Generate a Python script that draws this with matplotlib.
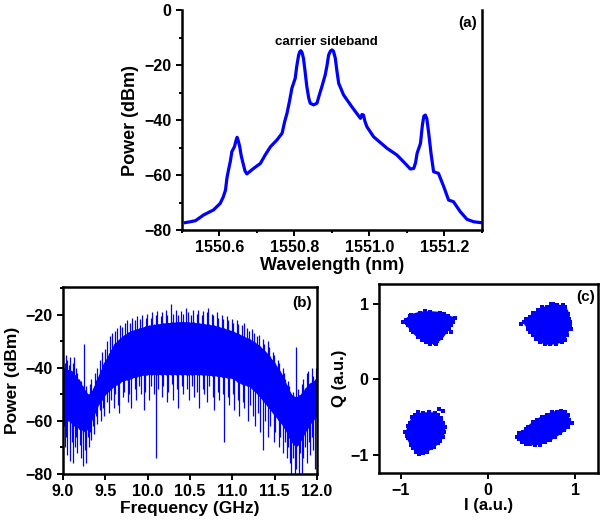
import numpy as np
import matplotlib
matplotlib.use("Agg")
import matplotlib.pyplot as plt
from matplotlib.ticker import MultipleLocator

plt.rcParams['font.family'] = ['Liberation Sans', 'DejaVu Sans']
plt.rcParams['font.weight'] = 'bold'

BLUE = '#0000ff'

# ---------------- panel (a): optical spectrum ----------------
wl = [1550.509, 1550.522, 1550.536, 1550.558, 1550.584, 1550.602, 1550.610, 1550.616,
      1550.620, 1550.624, 1550.629, 1550.633, 1550.640, 1550.644, 1550.647, 1550.650,
      1550.654, 1550.658, 1550.663, 1550.668, 1550.673, 1550.691, 1550.709, 1550.722,
      1550.736, 1550.753, 1550.767, 1550.774, 1550.780, 1550.787, 1550.793, 1550.802,
      1550.806, 1550.811, 1550.814, 1550.817, 1550.820, 1550.824, 1550.828, 1550.833,
      1550.838, 1550.842, 1550.851, 1550.860, 1550.866, 1550.873, 1550.882, 1550.887,
      1550.891, 1550.896, 1550.900, 1550.904, 1550.909, 1550.913, 1550.918, 1550.931,
      1550.953, 1550.976, 1550.980, 1550.984, 1550.988, 1550.993, 1551.011, 1551.047,
      1551.073, 1551.091, 1551.109, 1551.118, 1551.123, 1551.127, 1551.136, 1551.141,
      1551.145, 1551.149, 1551.153, 1551.158, 1551.164, 1551.171, 1551.184, 1551.198,
      1551.211, 1551.224, 1551.242, 1551.260, 1551.278, 1551.296]
pw = [-77.3, -77.0, -76.6, -74.5, -72.7, -70.3, -68.0, -65.5,
      -61.0, -58.2, -55.0, -51.5, -49.7, -47.5, -46.3, -47.5,
      -49.7, -53.0, -55.8, -58.5, -59.6, -57.6, -55.8, -52.7,
      -49.7, -47.3, -44.8, -40.5, -37.6, -33.0, -28.5, -24.8,
      -20.5, -16.5, -15.2, -14.8, -15.4, -17.6, -22.0, -27.9,
      -32.0, -33.9, -34.5, -33.9, -31.0, -27.9, -23.6, -20.0,
      -16.4, -14.9, -14.5, -15.0, -17.6, -22.0, -26.7, -30.9,
      -35.2, -39.4, -38.0, -38.2, -40.5, -42.4, -46.1, -50.3,
      -52.7, -55.2, -57.8, -57.6, -55.5, -52.1, -48.5, -42.0,
      -38.6, -38.2, -39.5, -44.8, -52.0, -58.8, -59.4, -64.2,
      -69.1, -69.7, -73.3, -76.1, -77.0, -77.3]

# ---------------- panel (b): RF spectrum ----------------
freq_env = [9.0, 9.1, 9.2, 9.25, 9.3, 9.35, 9.4, 9.5, 9.6, 9.7, 9.8, 9.9, 10.0, 10.2,
            10.4, 10.6, 10.8, 11.0, 11.1, 11.2, 11.3, 11.4, 11.5, 11.6, 11.65, 11.7,
            11.75, 11.8, 11.9, 12.0]
band_top = [-40, -41, -45, -48, -50, -48, -44, -37, -31, -28, -26, -25, -24, -23,
            -22.5, -23, -24, -26, -27.5, -29, -31, -34, -38, -43, -47, -50,
            -51, -50, -46, -44]
band_bottom = [-57, -61, -63, -64, -63, -59, -55, -50, -47, -45, -44, -43, -42.5, -42.5,
               -42.5, -42.5, -43, -44, -46, -47, -50, -54, -58, -62, -65, -68,
               -70, -68, -62, -58]
up_f = [9.005, 9.018, 9.038, 9.047, 9.072, 9.086, 9.113, 9.127, 9.152, 9.166, 9.193, 9.207, 9.252,
        9.276, 9.313, 9.336, 9.374, 9.397, 9.434, 9.455, 9.493, 9.516, 9.553, 9.575, 9.614, 9.635,
        9.674, 9.694, 9.734, 9.755, 9.794, 9.814, 9.855, 9.873, 9.915, 9.933, 9.976, 9.993, 10.036,
        10.053, 10.096, 10.112, 10.157, 10.173, 10.216, 10.233, 10.272, 10.296, 10.335, 10.354,
        10.396, 10.413, 10.457, 10.472, 10.517, 10.532, 10.577, 10.592, 10.637, 10.652, 10.697,
        10.712, 10.757, 10.772, 10.817, 10.832, 10.877, 10.892, 10.937, 10.952, 10.997, 11.012,
        11.057, 11.072, 11.117, 11.132, 11.177, 11.192, 11.237, 11.252, 11.297, 11.312, 11.357,
        11.372, 11.417, 11.432, 11.477, 11.492, 11.537, 11.552, 11.597, 11.612, 11.657, 11.672,
        11.712, 11.752, 11.772, 11.817, 11.832, 11.877, 11.892, 11.937, 11.952, 11.992]
up_top = [-36, -38, -35, -37, -39, -36, -38, -36, -40, -42, -44, -45, -31,
          -47, -46, -44, -42, -40, -37, -34, -33, -30, -28, -27, -26, -25,
          -24, -24.5, -23, -22, -23, -21, -22, -20.5, -21.5, -20, -21, -19.5, -21,
          -19, -20, -18.5, -20.5, -19, -18, -20, -16, -19.5, -18, -20,
          -18.5, -19.5, -17.5, -19, -20, -18, -19.5, -18, -20, -18.5, -19,
          -17.5, -19.5, -20, -19, -21, -20, -21.5, -20.5, -22, -21.5, -23,
          -22, -23.5, -24, -23, -25, -26, -25.5, -27, -28, -27.5, -29,
          -31, -30, -32, -34, -35, -37, -38, -40, -42, -45, -47,
          -49, -32, -48, -46, -44, -42, -41, -40, -43, -40]
down_f = [9.01, 9.022, 9.037, 9.052, 9.061, 9.078, 9.086, 9.104, 9.113, 9.127, 9.146, 9.152,
          9.168, 9.189, 9.197, 9.218, 9.231, 9.241, 9.262, 9.271, 9.293, 9.301, 9.324, 9.333,
          9.356, 9.366, 9.394, 9.405, 9.436, 9.447, 9.476, 9.488, 9.515, 9.546, 9.562, 9.598,
          9.616, 9.647, 9.662, 9.703, 9.722, 9.768, 9.781, 9.806, 9.848, 9.866, 9.893, 9.917,
          9.958, 9.972, 10.016, 10.038, 10.077, 10.098, 10.124, 10.168, 10.185, 10.227, 10.243, 10.286,
          10.304, 10.347, 10.362, 10.405, 10.421, 10.466, 10.483, 10.527, 10.546, 10.588, 10.604, 10.648,
          10.663, 10.706, 10.722, 10.768, 10.782, 10.826, 10.843, 10.887, 10.905, 10.944, 10.962, 11.008,
          11.024, 11.067, 11.083, 11.126, 11.142, 11.187, 11.203, 11.246, 11.262, 11.307, 11.322, 11.364,
          11.382, 11.426, 11.442, 11.487, 11.503, 11.546, 11.563, 11.604, 11.617, 11.643, 11.655, 11.684,
          11.697, 11.718, 11.742, 11.757, 11.783, 11.797, 11.823, 11.836, 11.862, 11.877, 11.903, 11.918,
          11.944, 11.957, 11.982, 11.995]
down_lo = [-62, -70, -66, -73, -60, -75, -64, -68, -76, -62, -70, -66,
           -72, -63, -69, -74, -77, -65, -71, -76, -66, -70, -64, -67,
           -62, -65, -58, -61, -56, -60, -55, -58, -53, -57, -52, -55,
           -50, -54, -57, -51, -49, -53, -50, -55, -48, -52, -47, -50,
           -56, -49, -52, -47, -50, -74, -48, -51, -47, -53, -49, -46,
           -52, -48, -55, -47, -50, -48, -52, -47, -51, -49, -55, -48,
           -50, -53, -47, -51, -56, -49, -52, -50, -68, -51, -54, -50,
           -56, -52, -58, -53, -55, -60, -54, -58, -62, -57, -64, -71,
           -60, -66, -62, -68, -64, -70, -66, -72, -68, -74, -70, -76,
           -80, -74, -80, -78, -80, -72, -80, -74, -70, -76, -68, -73,
           -66, -71, -78, -65]

# ---------------- panel (c): constellation clusters ----------------
ul_I = [-0.946, -0.881, -0.785, -0.670, -0.556, -0.460, -0.383, -0.421, -0.479, -0.536,
        -0.613, -0.709, -0.805, -0.881, -0.920]
ul_Q = [0.781, 0.847, 0.878, 0.887, 0.878, 0.834, 0.803, 0.715, 0.626, 0.538,
        0.472, 0.494, 0.560, 0.648, 0.715]
ur_I = [0.410, 0.479, 0.575, 0.670, 0.785, 0.881, 0.920, 0.939, 0.900, 0.843,
        0.709, 0.594, 0.517, 0.460]
ur_Q = [0.759, 0.825, 0.913, 0.957, 0.979, 0.957, 0.869, 0.715, 0.582, 0.494,
        0.463, 0.494, 0.582, 0.670]
ll_I = [-0.931, -0.900, -0.843, -0.747, -0.613, -0.536, -0.498, -0.517, -0.575, -0.651,
        -0.747, -0.824, -0.881, -0.920]
ll_Q = [-0.697, -0.587, -0.476, -0.454, -0.454, -0.521, -0.631, -0.763, -0.851, -0.918,
        -0.984, -0.962, -0.873, -0.785]
lr_I = [0.333, 0.402, 0.460, 0.556, 0.670, 0.785, 0.881, 0.931, 0.920, 0.824,
        0.709, 0.594, 0.479, 0.383]
lr_Q = [-0.763, -0.697, -0.631, -0.543, -0.476, -0.432, -0.432, -0.543, -0.631, -0.719,
        -0.807, -0.860, -0.865, -0.829]
edge_I = [-0.97, -0.40, -0.42, -0.60, -0.90, -0.72, -0.50, -0.40, -0.45, -0.58, -0.66, -0.76,
          -0.86, -0.93,
          0.38, 0.94, 0.88, 0.72, 0.44, 0.52, 0.62, 0.74, 0.86, 0.93, 0.95, 0.88, 0.78, 0.65,
          0.55, 0.48,
          -0.56, -0.52, -0.95, -0.92, -0.87, -0.80, -0.68, -0.57, -0.52, -0.50, -0.55, -0.62,
          -0.70, -0.79, -0.86, -0.93,
          0.96, 0.36, 0.60, 0.36, 0.44, 0.52, 0.62, 0.73, 0.84, 0.92, 0.94, 0.87, 0.77, 0.65,
          0.54, 0.43, 0.35]
edge_Q = [0.76, 0.80, 0.62, 0.47, 0.83, 0.90, 0.86, 0.76, 0.66, 0.50, 0.46, 0.52,
          0.62, 0.74,
          0.73, 0.75, 0.96, 1.00, 0.80, 0.88, 0.95, 0.99, 0.98, 0.80, 0.66, 0.52, 0.46, 0.46,
          0.53, 0.62,
          -0.39, -0.42, -0.70, -0.62, -0.50, -0.44, -0.44, -0.48, -0.58, -0.70, -0.82, -0.90,
          -0.96, -0.99, -0.92, -0.75,
          -0.58, -0.78, -0.88, -0.72, -0.66, -0.57, -0.50, -0.44, -0.42, -0.48, -0.58, -0.68,
          -0.77, -0.84, -0.87, -0.86, -0.80]

fig = plt.figure(figsize=(6.02, 5.21), dpi=100)

def style(ax, fs=11):
    for s in ax.spines.values():
        s.set_linewidth(1.8)
    ax.tick_params(which='both', direction='out', width=1.4, labelsize=fs)
    ax.tick_params(which='major', length=4)
    ax.tick_params(which='minor', length=2.5)
    for lab in ax.get_xticklabels() + ax.get_yticklabels():
        lab.set_fontweight('bold')

# (a)
axa = fig.add_axes([0.3023, 0.5585, 0.4983, 0.4223])
axa.plot(wl, pw, color=BLUE, lw=2.3, solid_joinstyle='round')
axa.set_xlim(1550.5, 1551.3)
axa.set_ylim(-80, 0)
axa.set_xticks([1550.6, 1550.8, 1551.0, 1551.2])
axa.set_xticklabels(['1550.6', '1550.8', '1551.0', '1551.2'])
axa.xaxis.set_minor_locator(MultipleLocator(0.1))
axa.set_yticks([-80, -60, -40, -20, 0])
axa.yaxis.set_minor_locator(MultipleLocator(10))
axa.spines['top'].set_visible(False)
style(axa, 11.5)
axa.set_xlabel('Wavelength (nm)', fontsize=13, fontweight='bold', labelpad=1)
axa.set_ylabel('Power (dBm)', fontsize=13, fontweight='bold', labelpad=4)
axa.text(1550.886, -11.5, 'carrier sideband', ha='center', va='center', fontsize=9.5, fontweight='bold')
axa.text(0.953, 0.94, '(a)', transform=axa.transAxes, ha='center', va='center', fontsize=11, fontweight='bold')

# (b)
axb = fig.add_axes([0.1047, 0.0902, 0.4219, 0.3589])
axb.fill_between(freq_env, band_bottom, band_top, color=BLUE, lw=0)
dtop = np.interp(down_f, freq_env, band_top)
axb.vlines(down_f, down_lo, dtop, color=BLUE, lw=0.9)
utop = np.interp(up_f, freq_env, band_bottom)
axb.vlines(up_f, utop, up_top, color=BLUE, lw=0.9)
axb.set_xlim(9.0, 12.0)
axb.set_ylim(-80, -9.5)
axb.set_xticks([9.0, 9.5, 10.0, 10.5, 11.0, 11.5, 12.0])
axb.set_xticklabels(['9.0', '9.5', '10.0', '10.5', '11.0', '11.5', '12.0'])
axb.set_yticks([-80, -60, -40, -20])
axb.yaxis.set_minor_locator(MultipleLocator(10))
style(axb, 11.5)
axb.set_xlabel('Frequency (GHz)', fontsize=12.5, fontweight='bold', labelpad=1)
axb.set_ylabel('Power (dBm)', fontsize=12.5, fontweight='bold', labelpad=4)
axb.text(0.94, 0.914, '(b)', transform=axb.transAxes, ha='center', va='center', fontsize=11, fontweight='bold')

# (c)
axc = fig.add_axes([0.6296, 0.0921, 0.3638, 0.3628])
for ci, cq in [(ul_I, ul_Q), (ur_I, ur_Q), (ll_I, ll_Q), (lr_I, lr_Q)]:
    axc.fill(ci, cq, color=BLUE, lw=1.5, ec=BLUE)
    axc.scatter(ci, cq, s=8, marker='s', color=BLUE, lw=0)
axc.scatter(edge_I, edge_Q, s=8, marker='s', color=BLUE, lw=0)
axc.set_xlim(-1.25, 1.26)
axc.set_ylim(-1.245, 1.26)
axc.set_xticks([-1, 0, 1])
axc.set_yticks([-1, 0, 1])
style(axc, 11.5)
axc.set_xlabel('I (a.u.)', fontsize=12, fontweight='bold', labelpad=0)
axc.set_ylabel('Q (a.u.)', fontsize=12, fontweight='bold', labelpad=2)
axc.text(0.944, 0.93, '(c)', transform=axc.transAxes, ha='center', va='center', fontsize=11, fontweight='bold')

fig.savefig('out.png', dpi=100)
